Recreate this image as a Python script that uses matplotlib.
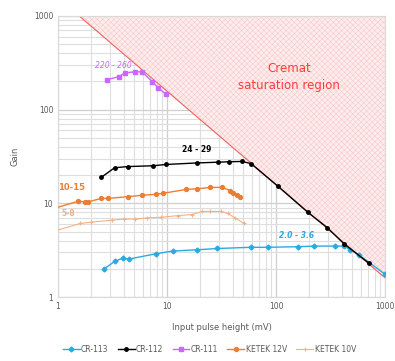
import numpy as np
import matplotlib as mpl
import matplotlib.pyplot as plt
from matplotlib.ticker import LogLocator, FixedLocator, FixedFormatter, NullFormatter

mpl.rcParams['hatch.linewidth'] = 0.3

## data
sat_x = [1.56, 1000]
sat_gain = [1000, 1.6]

cr113_x = [2.65, 3.3, 3.9, 4.5, 7.9, 11.3, 19, 29, 59, 85, 160, 224, 350, 420, 480, 580, 1000]
cr113_g = [2.0, 2.4, 2.6, 2.55, 2.9, 3.1, 3.2, 3.3, 3.4, 3.4, 3.45, 3.5, 3.5, 3.5, 3.2, 2.8, 1.75]

cr112_x = [2.5, 3.3, 4.4, 7.5, 9.8, 19, 29.5, 37, 49, 59, 104, 196, 295, 420, 710]
cr112_g = [19, 24, 24.7, 25.2, 26, 27, 27.5, 27.8, 28, 26.5, 15.2, 8.0, 5.5, 3.7, 2.3]

cr111_x = [2.8, 3.6, 4.1, 5.1, 5.9, 7.3, 8.3, 9.8]
cr111_g = [209, 224, 247, 253, 253, 199, 171, 145]

k12_x = [1.0, 1.52, 1.77, 1.9, 2.5, 2.9, 4.4, 5.9, 7.9, 9.2, 15, 19, 25, 32, 38, 40.5, 44, 47]
k12_g = [9.1, 10.5, 10.4, 10.4, 11.3, 11.3, 11.8, 12.2, 12.5, 12.8, 14.1, 14.3, 14.8, 14.8, 13.7, 13.0, 12.4, 11.6]

k10_x = [1.0, 1.6, 2.0, 3.1, 4.0, 5.1, 6.6, 8.8, 12.6, 17, 21, 25, 31, 36, 42, 51]
k10_g = [5.2, 6.1, 6.3, 6.6, 6.8, 6.8, 7.0, 7.1, 7.4, 7.6, 8.2, 8.2, 8.2, 7.8, 7.0, 6.1]

ticks = [1, 10, 100, 1000]
tick_labels = ['1', '10', '100', '1000']

W, H = 395, 361
fig = plt.figure(figsize=(W / 100, H / 100), dpi=100)
ax = fig.add_axes([0.147, 0.177, 0.828, 0.779])
ax.set_xscale('log')
ax.set_yscale('log')
ax.set_xlim(1, 1000)
ax.set_ylim(1, 1000)

def px(x, y):
    # pixel position from top-left -> figure fraction
    return x / W, 1 - y / H

# saturation region
ax.fill_between(sat_x, sat_gain, [1000, 1000], facecolor='#fdecec', edgecolor='#f8c0c0',
                hatch='xxxxxx', linewidth=0, zorder=1)
ax.plot(sat_x, sat_gain, color='#f06060', lw=0.8, zorder=2)
fig.text(*px(289, 77), 'Cremat\nsaturation region', color='#ff3b3b', fontsize=8.5,
         ha='center', va='center', linespacing=1.35)

ax.plot(cr113_x, cr113_g, color='#29abe2', marker='D', ms=2.5, lw=1, label='CR-113', zorder=4)
ax.plot(cr112_x, cr112_g, color='black', marker='o', ms=2.5, lw=1, label='CR-112', zorder=5)
ax.plot(cr111_x, cr111_g, color='#cc66ff', marker='s', ms=2.5, lw=1, label='CR-111', zorder=4)
ax.plot(k12_x[1:], k12_g[1:], color='#ed7d31', marker='o', ms=2.8, lw=1, label='KETEK 12V', zorder=4)
ax.plot(k12_x[:2], k12_g[:2], color='#ed7d31', lw=1, zorder=4)
ax.plot(k10_x[1:], k10_g[1:], color='#f4b183', marker='+', ms=3, mew=0.8, lw=0.8, label='KETEK 10V', zorder=4)
ax.plot(k10_x[:2], k10_g[:2], color='#f4b183', lw=0.8, zorder=4)

# range labels
fig.text(*px(113, 65), '220 - 260', color='#cc66ff', fontsize=5.5, style='italic', ha='center', va='center')
fig.text(*px(197, 150), '24 - 29', color='black', fontsize=5.5, weight='bold', ha='center', va='center')
fig.text(*px(72, 187), '10-15', color='#ed7d31', fontsize=6, weight='bold', ha='center', va='center')
fig.text(*px(68, 213), '5-8', color='#f4b183', fontsize=5.5, weight='bold', ha='center', va='center')
fig.text(*px(297, 236), '2.0 - 3.6', color='#29abe2', fontsize=5.5, style='italic', weight='bold', ha='center', va='center')

ax.xaxis.set_major_locator(FixedLocator(ticks))
ax.xaxis.set_major_formatter(FixedFormatter(tick_labels))
ax.yaxis.set_major_locator(FixedLocator(ticks))
ax.yaxis.set_major_formatter(FixedFormatter(tick_labels))
ax.xaxis.set_minor_locator(LogLocator(base=10, subs=np.arange(2, 10)))
ax.yaxis.set_minor_locator(LogLocator(base=10, subs=np.arange(2, 10)))
ax.xaxis.set_minor_formatter(NullFormatter())
ax.yaxis.set_minor_formatter(NullFormatter())
ax.tick_params(which='both', length=0, labelsize=5.5, labelcolor='#595959')
ax.grid(which='major', color='#cfcfcf', lw=0.9, zorder=0)
ax.grid(which='minor', color='#dedede', lw=0.8, zorder=0)
ax.set_axisbelow(True)
for s in ax.spines.values():
    s.set_color('#d9d9d9')
    s.set_linewidth(0.8)

ax.set_xlabel('Input pulse height (mV)', fontsize=6, color='#595959', labelpad=9)
ax.set_ylabel('Gain', fontsize=6, color='#595959', labelpad=10)

fig.legend(loc='lower center', bbox_to_anchor=(0.53, 0.0), ncol=5, fontsize=5.5, frameon=False,
           handlelength=2.2, columnspacing=1.2, handletextpad=0.2, labelcolor='#595959')

fig.savefig('out.png', dpi=100)
